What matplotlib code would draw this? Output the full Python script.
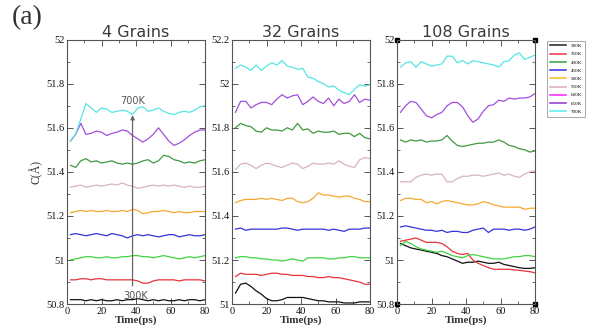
import numpy as np
import matplotlib
matplotlib.use("Agg")
import matplotlib.pyplot as plt
from matplotlib.lines import Line2D
from matplotlib.ticker import MultipleLocator

# time grid (ps), values every 3 ps
t = [2, 5, 8, 11, 14, 17, 20, 23, 26, 29, 32, 35, 38, 41, 44, 47, 50, 53, 56, 59, 62, 65, 68, 71, 74, 77, 80]

temps = ["300K", "350K", "400K", "450K", "500K", "550K", "600K", "650K", "700K"]
line_colors = ["#111111", "#e8333a", "#3fd43f", "#3434d8", "#f5a833", "#d9b3c3", "#3f9a3f", "#a24fdc", "#55e6e6"]
legend_colors = ["#333333", "#ee4455", "#44aa44", "#4444dd", "#f5c040", "#d9b3c3", "#ff33ff", "#9944cc", "#66eeee"]

# ---- 4 grains ----
g4_300 = [50.82, 50.82, 50.82, 50.815, 50.82, 50.815, 50.82, 50.815, 50.815, 50.82, 50.815, 50.82, 50.82, 50.825, 50.82, 50.815, 50.82, 50.815, 50.82, 50.815, 50.815, 50.82, 50.815, 50.82, 50.82, 50.815, 50.82]
g4_350 = [50.91, 50.91, 50.915, 50.915, 50.91, 50.915, 50.915, 50.91, 50.91, 50.91, 50.91, 50.91, 50.91, 50.905, 50.895, 50.895, 50.905, 50.91, 50.91, 50.91, 50.91, 50.905, 50.91, 50.91, 50.91, 50.91, 50.905]
g4_400 = [51.0, 51.005, 51.01, 51.015, 51.015, 51.01, 51.01, 51.015, 51.01, 51.01, 51.015, 51.015, 51.02, 51.02, 51.015, 51.015, 51.01, 51.015, 51.02, 51.015, 51.01, 51.005, 51.01, 51.015, 51.01, 51.015, 51.02]
g4_450 = [51.115, 51.12, 51.115, 51.11, 51.115, 51.12, 51.115, 51.11, 51.12, 51.115, 51.11, 51.1, 51.11, 51.115, 51.11, 51.115, 51.11, 51.105, 51.11, 51.115, 51.115, 51.105, 51.11, 51.115, 51.11, 51.11, 51.115]
g4_500 = [51.215, 51.22, 51.225, 51.22, 51.225, 51.22, 51.22, 51.225, 51.22, 51.22, 51.225, 51.22, 51.23, 51.225, 51.21, 51.215, 51.22, 51.22, 51.225, 51.22, 51.215, 51.22, 51.215, 51.215, 51.22, 51.22, 51.22]
g4_550 = [51.33, 51.335, 51.34, 51.33, 51.335, 51.34, 51.335, 51.34, 51.345, 51.34, 51.35, 51.34, 51.335, 51.325, 51.33, 51.335, 51.34, 51.335, 51.34, 51.335, 51.34, 51.335, 51.33, 51.335, 51.33, 51.33, 51.335]
g4_600 = [51.43, 51.42, 51.45, 51.46, 51.445, 51.45, 51.44, 51.445, 51.45, 51.44, 51.435, 51.44, 51.435, 51.44, 51.45, 51.455, 51.44, 51.45, 51.475, 51.47, 51.455, 51.45, 51.44, 51.445, 51.44, 51.45, 51.455]
g4_650 = [51.54, 51.57, 51.62, 51.57, 51.575, 51.585, 51.58, 51.565, 51.575, 51.58, 51.59, 51.585, 51.565, 51.55, 51.535, 51.55, 51.57, 51.6, 51.57, 51.54, 51.52, 51.53, 51.545, 51.565, 51.58, 51.59, 51.59]
g4_700 = [51.54, 51.57, 51.64, 51.71, 51.69, 51.67, 51.69, 51.685, 51.67, 51.675, 51.68, 51.675, 51.66, 51.69, 51.695, 51.675, 51.68, 51.69, 51.675, 51.665, 51.66, 51.67, 51.675, 51.67, 51.68, 51.695, 51.70]

# ---- 32 grains ----
g32_300 = [51.05, 51.09, 51.095, 51.08, 51.06, 51.045, 51.025, 51.015, 51.015, 51.02, 51.03, 51.03, 51.03, 51.03, 51.025, 51.02, 51.015, 51.015, 51.01, 51.01, 51.01, 51.005, 51.005, 51.005, 51.01, 51.01, 51.01]
g32_350 = [51.125, 51.14, 51.135, 51.135, 51.135, 51.13, 51.135, 51.14, 51.14, 51.135, 51.135, 51.13, 51.13, 51.13, 51.125, 51.125, 51.12, 51.12, 51.125, 51.12, 51.12, 51.115, 51.11, 51.105, 51.1, 51.09, 51.09]
g32_400 = [51.21, 51.215, 51.215, 51.21, 51.21, 51.205, 51.205, 51.2, 51.2, 51.195, 51.2, 51.205, 51.2, 51.195, 51.21, 51.21, 51.21, 51.21, 51.205, 51.205, 51.21, 51.21, 51.215, 51.215, 51.21, 51.21, 51.21]
g32_450 = [51.34, 51.345, 51.335, 51.34, 51.34, 51.34, 51.34, 51.34, 51.34, 51.345, 51.345, 51.34, 51.335, 51.34, 51.34, 51.34, 51.34, 51.34, 51.335, 51.34, 51.335, 51.33, 51.34, 51.34, 51.34, 51.345, 51.345]
g32_500 = [51.46, 51.47, 51.475, 51.475, 51.475, 51.48, 51.475, 51.48, 51.475, 51.47, 51.48, 51.48, 51.465, 51.46, 51.465, 51.48, 51.505, 51.495, 51.495, 51.49, 51.485, 51.49, 51.49, 51.48, 51.475, 51.465, 51.465]
g32_550 = [51.61, 51.635, 51.64, 51.63, 51.615, 51.63, 51.64, 51.635, 51.625, 51.62, 51.63, 51.64, 51.635, 51.615, 51.625, 51.64, 51.635, 51.635, 51.64, 51.635, 51.65, 51.635, 51.625, 51.62, 51.655, 51.665, 51.66]
g32_600 = [51.8, 51.82, 51.81, 51.805, 51.785, 51.78, 51.80, 51.79, 51.79, 51.785, 51.80, 51.79, 51.82, 51.79, 51.795, 51.775, 51.785, 51.78, 51.78, 51.785, 51.77, 51.775, 51.775, 51.76, 51.775, 51.755, 51.75]
g32_650 = [51.87, 51.92, 51.92, 51.89, 51.905, 51.915, 51.915, 51.905, 51.93, 51.95, 51.935, 51.945, 51.95, 51.905, 51.92, 51.94, 51.92, 51.91, 51.935, 51.9, 51.93, 51.91, 51.92, 51.95, 51.915, 51.93, 51.925]
g32_700 = [52.07, 52.085, 52.075, 52.06, 52.085, 52.06, 52.08, 52.095, 52.085, 52.105, 52.08, 52.075, 52.065, 52.07, 52.03, 52.025, 52.01, 52.0, 51.985, 51.99, 51.97, 51.96, 51.95, 51.975, 51.995, 51.99, 51.995]

# ---- 108 grains ----
g108_300 = [51.075, 51.065, 51.055, 51.05, 51.045, 51.04, 51.035, 51.03, 51.02, 51.015, 51.005, 50.995, 50.985, 50.99, 50.99, 50.995, 50.99, 50.985, 50.985, 50.99, 50.98, 50.975, 50.97, 50.965, 50.962, 50.962, 50.965]
g108_350 = [51.085, 51.09, 51.095, 51.1, 51.09, 51.08, 51.08, 51.08, 51.075, 51.06, 51.04, 51.03, 51.025, 51.03, 51.0, 50.985, 50.975, 50.965, 50.958, 50.958, 50.958, 50.958, 50.955, 50.953, 50.95, 50.947, 50.942]
g108_400 = [51.065, 51.085, 51.075, 51.06, 51.05, 51.045, 51.04, 51.035, 51.04, 51.03, 51.02, 51.015, 51.01, 51.02, 51.025, 51.02, 51.015, 51.01, 51.005, 51.005, 51.005, 51.01, 51.015, 51.015, 51.02, 51.02, 51.015]
g108_450 = [51.15, 51.155, 51.15, 51.145, 51.14, 51.135, 51.135, 51.13, 51.135, 51.125, 51.13, 51.13, 51.125, 51.125, 51.135, 51.14, 51.145, 51.125, 51.14, 51.14, 51.14, 51.135, 51.14, 51.14, 51.135, 51.14, 51.15]
g108_500 = [51.27, 51.28, 51.28, 51.275, 51.275, 51.26, 51.265, 51.255, 51.265, 51.27, 51.265, 51.26, 51.255, 51.25, 51.25, 51.255, 51.265, 51.26, 51.25, 51.245, 51.24, 51.24, 51.24, 51.24, 51.23, 51.235, 51.235]
g108_550 = [51.355, 51.355, 51.355, 51.375, 51.385, 51.39, 51.385, 51.39, 51.39, 51.355, 51.355, 51.37, 51.38, 51.38, 51.385, 51.385, 51.38, 51.385, 51.39, 51.395, 51.385, 51.39, 51.38, 51.375, 51.39, 51.4, 51.405]
g108_600 = [51.545, 51.535, 51.545, 51.54, 51.545, 51.535, 51.54, 51.54, 51.545, 51.565, 51.54, 51.52, 51.515, 51.52, 51.525, 51.53, 51.53, 51.535, 51.535, 51.545, 51.535, 51.52, 51.515, 51.505, 51.5, 51.49, 51.495]
g108_650 = [51.67, 51.7, 51.72, 51.715, 51.685, 51.655, 51.645, 51.66, 51.67, 51.7, 51.715, 51.715, 51.695, 51.655, 51.625, 51.64, 51.675, 51.7, 51.705, 51.725, 51.72, 51.735, 51.73, 51.735, 51.735, 51.74, 51.755]
g108_700 = [51.875, 51.895, 51.9, 51.875, 51.9, 51.89, 51.88, 51.885, 51.89, 51.925, 51.925, 51.895, 51.905, 51.89, 51.905, 51.9, 51.895, 51.89, 51.885, 51.875, 51.9, 51.905, 51.93, 51.94, 51.91, 51.92, 51.93]

panels = [
    ("4 Grains", [g4_300, g4_350, g4_400, g4_450, g4_500, g4_550, g4_600, g4_650, g4_700], (50.8, 52.0)),
    ("32 Grains", [g32_300, g32_350, g32_400, g32_450, g32_500, g32_550, g32_600, g32_650, g32_700], (51.0, 52.2)),
    ("108 Grains", [g108_300, g108_350, g108_400, g108_450, g108_500, g108_550, g108_600, g108_650, g108_700], (50.8, 52.0)),
]
lefts = [67 / 592, 232 / 592, 397 / 592]

fig = plt.figure(figsize=(5.92, 3.36), dpi=100)
axes = []
for i, (title, series, ylim) in enumerate(panels):
    ax = fig.add_axes([lefts[i], 0.095, 138 / 592, 0.787])
    for s, c in zip(series, line_colors):
        ax.plot(t, s, color=c, lw=0.9)
    ax.set_xlim(0, 80)
    ax.set_ylim(*ylim)
    ax.xaxis.set_major_locator(MultipleLocator(20))
    ax.xaxis.set_minor_locator(MultipleLocator(10))
    ax.yaxis.set_major_locator(MultipleLocator(0.2))
    ax.yaxis.set_minor_locator(MultipleLocator(0.1))
    ax.yaxis.set_major_formatter(plt.FuncFormatter(lambda v, p: ("%.1f" % v).rstrip("0").rstrip(".")))
    ax.tick_params(which="both", direction="in", top=True, right=True, colors="#555555",
                   labelcolor="#111111", labelsize=7.5, pad=2, labelfontfamily="Liberation Serif")
    ax.tick_params(which="major", length=4, width=0.7)
    ax.tick_params(which="minor", length=2.5, width=0.6)
    for sp in ax.spines.values():
        sp.set_color("#555555")
        sp.set_linewidth(0.8)
    ax.set_title(title, fontsize=11.5, color="#3a3a3a", pad=2)
    ax.set_xlabel("Time(ps)", family="Liberation Serif", fontweight="bold", fontsize=8,
                  color="#333333", labelpad=0)
    axes.append(ax)

ax1 = axes[0]
ax1.set_ylabel("C(Å)", family="Liberation Serif", fontsize=8.5, color="#333333", labelpad=2)
ax1.annotate("", xy=(38, 51.67), xytext=(38, 50.87),
             arrowprops=dict(arrowstyle="-|>", color="#666666", lw=0.9, mutation_scale=6))
ax1.text(38, 51.72, "700K", ha="center", va="center", fontsize=7, color="#555555")
ax1.text(40, 50.835, "300K", ha="center", va="center", fontsize=7, color="#555555")

# corner squares on the last panel
ax3 = axes[2]
ax3.plot([0, 1, 0, 1], [0, 0, 1, 1], "s", color="black", ms=3.5,
         transform=ax3.transAxes, clip_on=False)

handles = [Line2D([0], [0], color=c, lw=1.2) for c in legend_colors]
leg = fig.legend(handles, temps, loc="upper left", bbox_to_anchor=(544 / 592, 1 - 38 / 336),
                 prop={"family": "Liberation Serif", "size": 3.6}, handlelength=3.2,
                 labelspacing=0.75, borderpad=0.6, handletextpad=1.0, fancybox=False,
                 framealpha=1, edgecolor="#999999")
leg.get_frame().set_linewidth(0.6)

fig.text(12 / 592, 1 - 5 / 336, "(a)", family="Liberation Serif", fontsize=20,
         color="#333333", ha="left", va="top")

fig.savefig("out.png", dpi=100)
